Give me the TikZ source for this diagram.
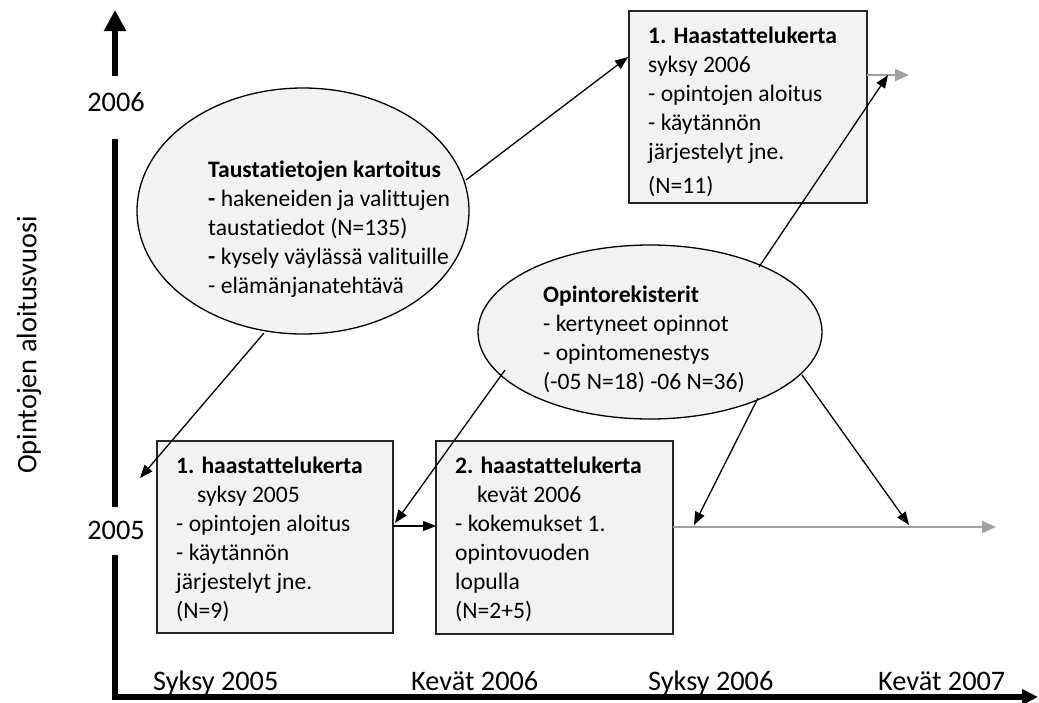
\documentclass[tikz,border=0pt]{standalone}
\usepackage{fontspec}
\setmainfont{Carlito}[Ligatures={NoCommon}]
\usetikzlibrary{arrows.meta,shapes.geometric}
\definecolor{fillgray}{HTML}{F2F2F2}
\definecolor{linegray}{HTML}{A0A0A0}
\begin{document}
\begin{tikzpicture}[x=1pt,y=-1pt,
  txt/.style={font=\fontsize{23.6}{29}\selectfont, align=left, anchor=north west, inner sep=0pt},
  axlbl/.style={font=\fontsize{28.3}{34}\selectfont, inner sep=0pt},
  stagebox/.style={draw=black!85, line width=1.5pt, fill=fillgray, inner sep=0pt},
  blob/.style={ellipse, draw=black, line width=1.3pt, fill=fillgray, inner sep=0pt},
  arr/.style={-{Triangle[length=13pt,width=10pt]}, line width=1.3pt, black},
  grayarr/.style={-{Triangle[length=14pt,width=12pt]}, line width=2pt, linegray},
  axis/.style={line width=5.5pt, black}
]
\useasboundingbox (0,0) rectangle (1039,702);

% vertical axis
\coordinate (vtop) at (115,10);
\coordinate (vshaft) at (115,76);
\draw[axis, -{Triangle[length=21pt,width=21pt]}] (vshaft) -- (vtop);
\node[axlbl] (y2006) at (116,102) {2006};
\node[axlbl] (y2005) at (116,530) {2005};
\coordinate (v2a) at (115,139);
\coordinate (v2b) at (115,507);
\draw[axis] (v2a) -- (v2b);
\coordinate (v3a) at (115,555);
\coordinate (corner) at (115,697);
\coordinate (xtip) at (1038,697);
\draw[axis, line join=miter, -{Triangle[length=16pt,width=15pt]}] (v3a) -- (corner) -- (xtip);

% y axis title
\node[axlbl, rotate=90] (ytitle) at (29,345) {Opintojen aloitusvuosi};

% bottom labels
\node[axlbl, anchor=base west] (xs05) at (153,690) {Syksy 2005};
\node[axlbl, anchor=base west] (xk06) at (411,690) {Kevät 2006};
\node[axlbl, anchor=base west] (xs06) at (648,690) {Syksy 2006};
\node[axlbl, anchor=base west] (xk07) at (878,690) {Kevät 2007};

% boxes
\node[stagebox, minimum width=236pt, minimum height=192pt] (b1) at (275,537) {};
\node[stagebox, minimum width=237pt, minimum height=193pt] (b2) at (554.5,537.5) {};
\node[stagebox, minimum width=238pt, minimum height=192pt] (tb) at (748,107) {};

\node[txt] (b1t) at (176,452.7) {\strut\textbf{1. haastattelukerta}\\\hspace*{21pt}syksy 2005\\- opintojen aloitus\\- käytännön\\järjestelyt jne.\\(N=9)};
\node[txt] (b2t) at (455,452.7) {\strut\textbf{2. haastattelukerta}\\\hspace*{22pt}kevät 2006\\- kokemukset 1.\\opintovuoden\\lopulla\\(N=2+5)};
\node[txt] (tbt) at (648,22.7) {\strut\textbf{1. Haastattelukerta}\\syksy 2006\\- opintojen aloitus\\- käytännön\\järjestelyt jne.\\[5pt](N=11)};

% ellipses
\node[blob, minimum width=332pt, minimum height=246pt] (e1) at (303,211) {};
\node[txt] (e1t) at (208,156.7) {\strut\textbf{Taustatietojen kartoitus}\\\textbf{-} hakeneiden ja valittujen\\taustatiedot (N=135)\\\textbf{-} kysely väylässä valituille\\- elämänjanatehtävä};
\node[blob, minimum width=344pt, minimum height=174pt] (e2) at (650,332) {};
\node[txt] (e2t) at (543,281.7) {\strut\textbf{Opintorekisterit}\\- kertyneet opinnot\\- opintomenestys\\(-05 N=18) -06 N=36)};

% gray timeline arrows
\coordinate (g1s) at (673,527);
\coordinate (g1e) at (996,527);
\draw[grayarr] (g1s) -- (g1e);
\coordinate (g2s) at (867,75);
\coordinate (g2e) at (909,75);
\draw[grayarr] (g2s) -- (g2e);

% connectors
\coordinate (c1s) at (466,180);
\coordinate (c1e) at (628,57);
\draw[arr] (c1s) -- (c1e);
\coordinate (c2s) at (264,333);
\coordinate (c2e) at (140,478);
\draw[arr] (c2s) -- (c2e);
\coordinate (c3s) at (505,370);
\coordinate (c3e) at (395,523);
\draw[arr] (c3s) -- (c3e);
\coordinate (c4s) at (393,526);
\coordinate (c4e) at (436,526);
\draw[arr] (c4s) -- (c4e);
\coordinate (c5s) at (758,398);
\coordinate (c5e) at (694,525);
\draw[arr] (c5s) -- (c5e);
\coordinate (c6s) at (802,375);
\coordinate (c6e) at (909,525);
\draw[arr] (c6s) -- (c6e);
\coordinate (c7s) at (759,267);
\coordinate (c7e) at (888,75);
\draw[arr] (c7s) -- (c7e);
\end{tikzpicture}
\end{document}
